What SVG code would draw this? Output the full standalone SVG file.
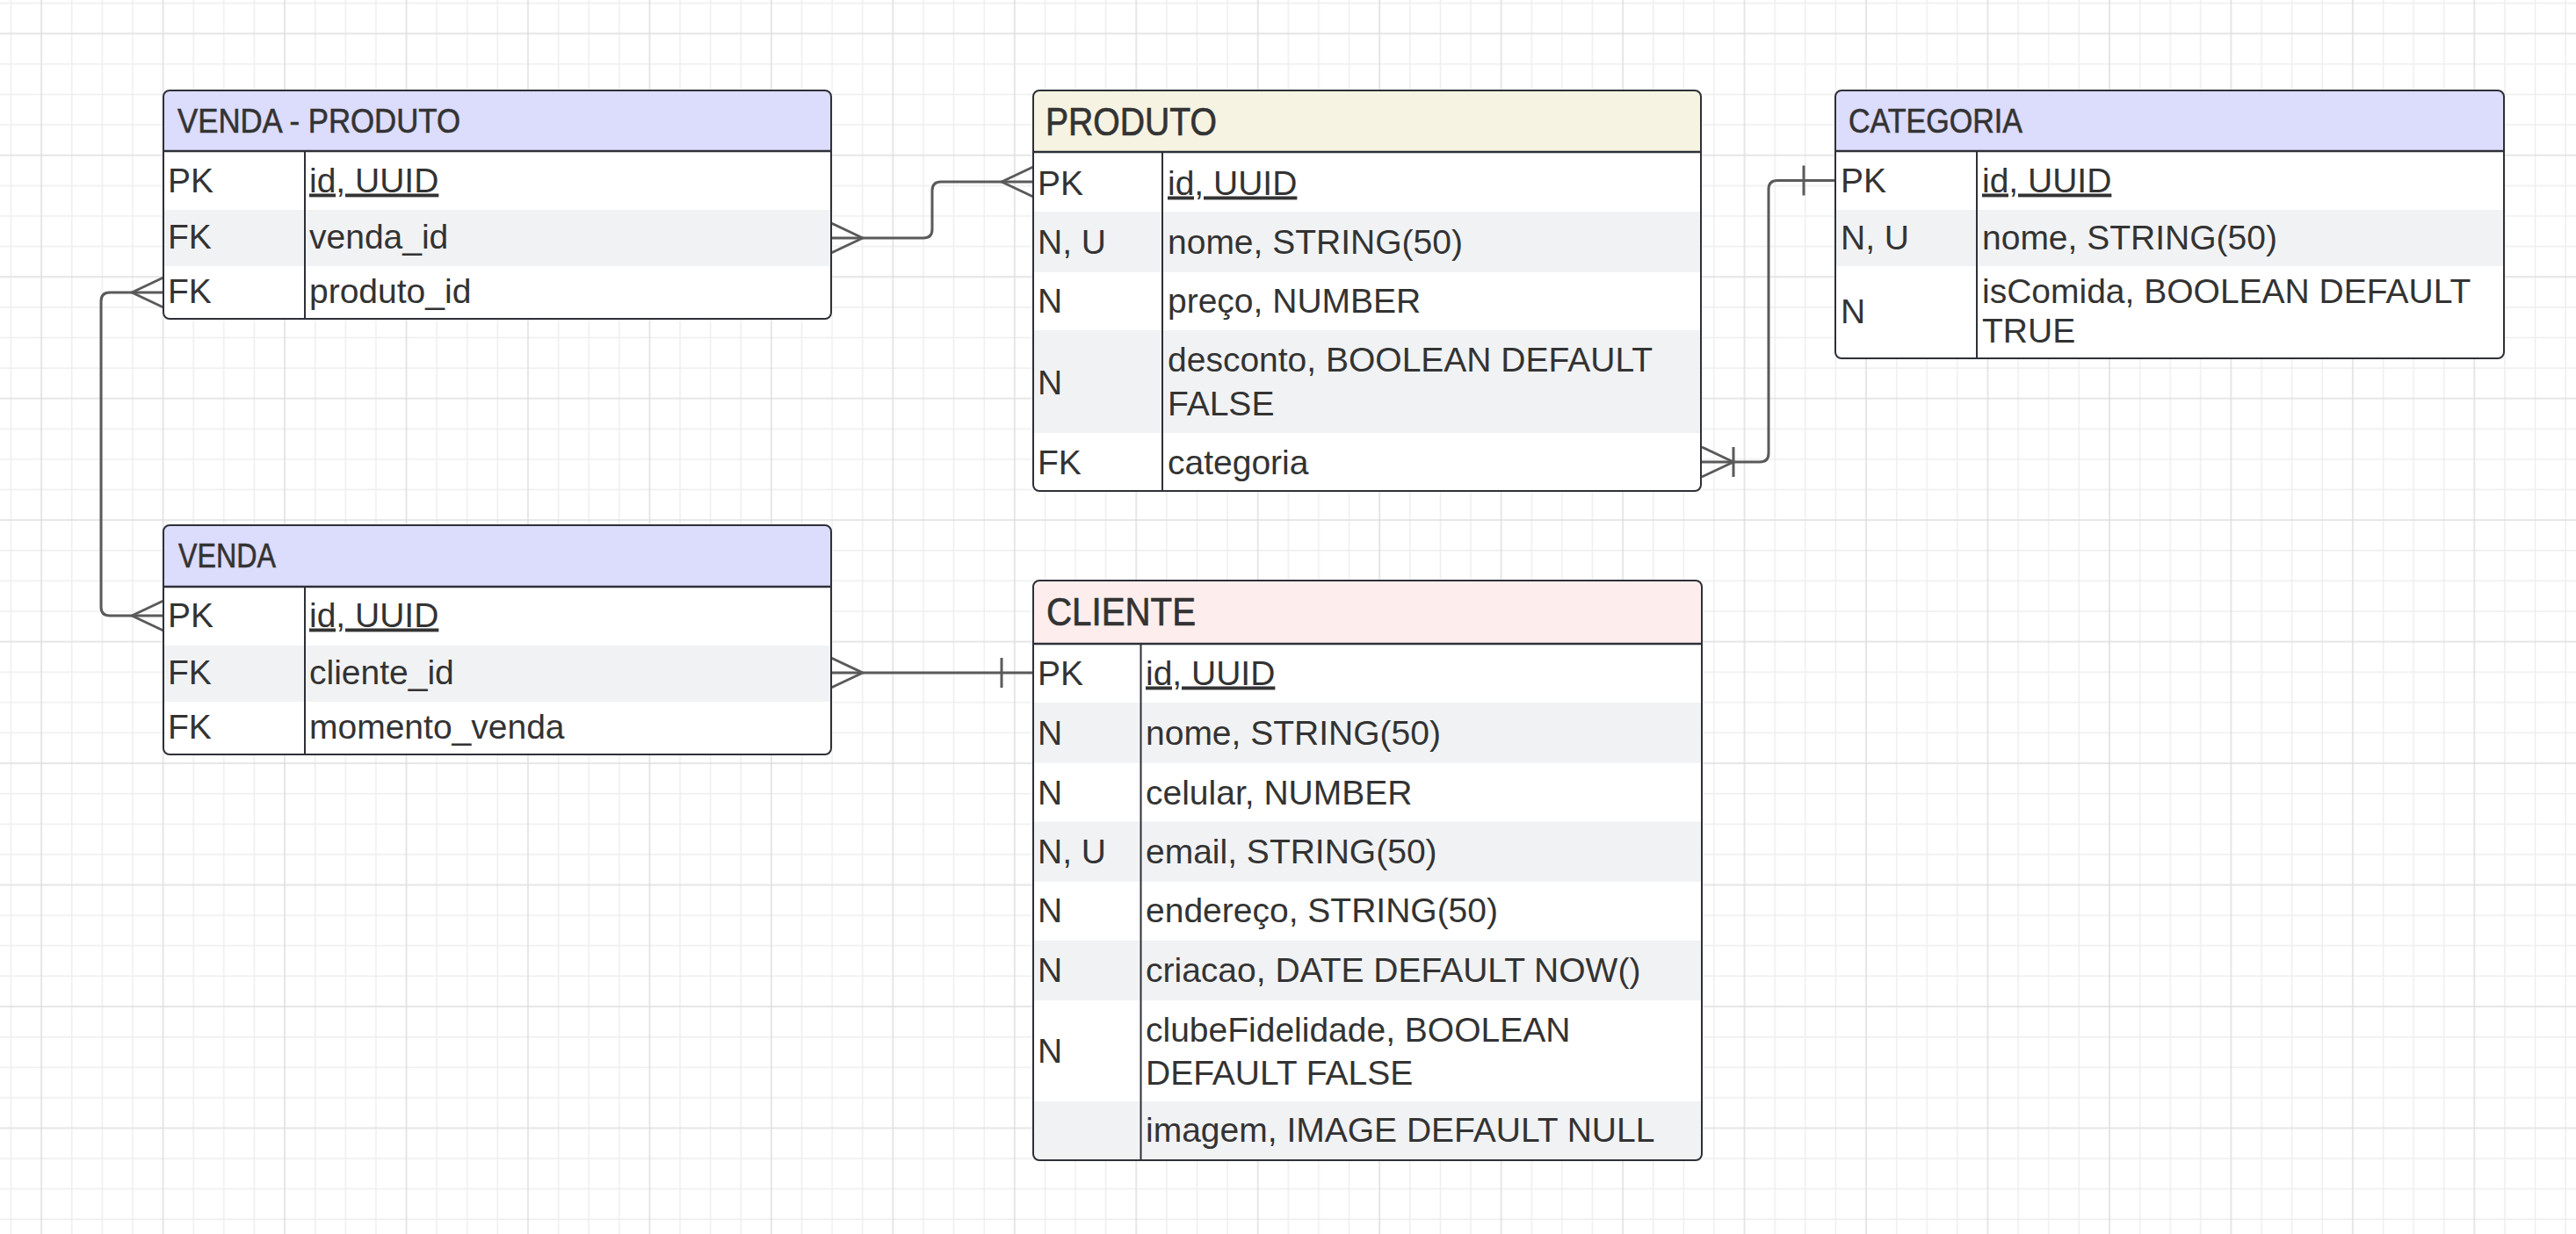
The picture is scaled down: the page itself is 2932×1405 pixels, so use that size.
<svg xmlns="http://www.w3.org/2000/svg" width="2932" height="1405" viewBox="0 0 2932 1405">
<defs>
<pattern id="grid" x="184.6" y="37.3" width="138.46" height="138.46" patternUnits="userSpaceOnUse">
<path d="M35.615,0V138.46M70.23,0V138.46M104.85,0V138.46M0,35.615H138.46M0,70.23H138.46M0,104.85H138.46" stroke="#eeeeee" stroke-width="1.5" fill="none"/>
<path d="M1,0V138.46M0,1H138.46" stroke="#dedede" stroke-width="1.5" fill="none"/>
</pattern>
<clipPath id="c-vp"><rect x="186" y="103" width="760" height="260" rx="7"/></clipPath>
<clipPath id="c-p"><rect x="1176" y="103" width="760" height="456" rx="7"/></clipPath>
<clipPath id="c-c"><rect x="2089" y="103" width="761" height="305" rx="7"/></clipPath>
<clipPath id="c-v"><rect x="186" y="598" width="760" height="261" rx="7"/></clipPath>
<clipPath id="c-cl"><rect x="1176" y="661" width="761" height="660" rx="7"/></clipPath>
</defs>
<style>
.box{fill:none;stroke:#2e3038;stroke-width:2}
.hline{stroke:#2e3038;stroke-width:2.5}
.div{stroke:#2e3038;stroke-width:2}
.bg{fill:#ffffff}
.alt{fill:#f1f2f4}
.hb{fill:#dcdcfc}
.hp{fill:#f6f3e2}
.hc{fill:#fdeeed}
.t{font-family:"Liberation Sans",Arial,sans-serif;font-size:39px;fill:#333333}
.h{font-family:"Liberation Sans",Arial,sans-serif;font-size:38px;fill:#333333;stroke:#333333;stroke-width:0.6}
.hl{font-family:"Liberation Sans",Arial,sans-serif;font-size:44px;fill:#333333;stroke:#333333;stroke-width:0.7}
.u{text-decoration:underline}
.con{fill:none;stroke:#5a5a5a;stroke-width:3;stroke-linejoin:round}
</style>
<rect x="0" y="0" width="2932" height="1405" fill="#ffffff"/>
<rect x="0" y="0" width="2932" height="1405" fill="url(#grid)"/>

<g id="connectors">
<path class="con" d="M946,271H1051Q1061,271 1061,261V217Q1061,207 1071,207H1176"/>
<path class="con" d="M946,254L982,271L946,288"/>
<path class="con" d="M1176,190L1140,207L1176,224"/>
<path class="con" d="M186,333H125Q115,333 115,343V691Q115,701 125,701H186"/>
<path class="con" d="M186,316L150,333L186,350"/>
<path class="con" d="M186,684L150,701L186,718"/>
<path class="con" d="M1937,526H2003Q2013,526 2013,516V215.5Q2013,205.5 2023,205.5H2089"/>
<path class="con" d="M1937,509L1973,526L1937,543M1973,509V543"/>
<path class="con" d="M2053,188.5V222.5"/>
<path class="con" d="M946,766H1176"/>
<path class="con" d="M946,749L982,766L946,783"/>
<path class="con" d="M1140,749V783"/>
</g>

<g id="venda-produto">
<g clip-path="url(#c-vp)">
<rect class="bg" x="186" y="103" width="760" height="260"/>
<rect class="hb" x="186" y="103" width="760" height="69"/>
<rect class="alt" x="186" y="239" width="760" height="64"/>
</g>
<line class="div" x1="347" y1="172" x2="347" y2="363"/>
<line class="hline" x1="186" y1="172" x2="946" y2="172"/>
<rect class="box" x="186" y="103" width="760" height="260" rx="7"/>
<text class="h" x="202" y="151" textLength="322" lengthAdjust="spacingAndGlyphs">VENDA - PRODUTO</text>
<text class="t" x="191" y="218.5">PK</text>
<text class="t u" x="352" y="218.5">id, UUID</text>
<text class="t" x="191" y="283">FK</text>
<text class="t" x="352" y="283">venda_id</text>
<text class="t" x="191" y="345">FK</text>
<text class="t" x="352" y="345">produto_id</text>
</g>

<g id="produto">
<g clip-path="url(#c-p)">
<rect class="bg" x="1176" y="103" width="760" height="456"/>
<rect class="hp" x="1176" y="103" width="760" height="70"/>
<rect class="alt" x="1176" y="241" width="760" height="69"/>
<rect class="alt" x="1176" y="376" width="760" height="117"/>
</g>
<line class="div" x1="1323" y1="173" x2="1323" y2="559"/>
<line class="hline" x1="1176" y1="173" x2="1936" y2="173"/>
<rect class="box" x="1176" y="103" width="760" height="456" rx="7"/>
<text class="hl" x="1190" y="154" textLength="195" lengthAdjust="spacingAndGlyphs">PRODUTO</text>
<text class="t" x="1181" y="221.5">PK</text>
<text class="t u" x="1329" y="221.5">id, UUID</text>
<text class="t" x="1181" y="288.5">N, U</text>
<text class="t" x="1329" y="288.5">nome, STRING(50)</text>
<text class="t" x="1181" y="356">N</text>
<text class="t" x="1329" y="356">preço, NUMBER</text>
<text class="t" x="1181" y="448.5">N</text>
<text class="t" x="1329" y="422.5">desconto, BOOLEAN DEFAULT<tspan x="1329" y="472.5">FALSE</tspan></text>
<text class="t" x="1181" y="539.5">FK</text>
<text class="t" x="1329" y="539.5">categoria</text>
</g>

<g id="categoria">
<g clip-path="url(#c-c)">
<rect class="bg" x="2089" y="103" width="761" height="305"/>
<rect class="hb" x="2089" y="103" width="761" height="69"/>
<rect class="alt" x="2089" y="239" width="761" height="64"/>
</g>
<line class="div" x1="2250" y1="172" x2="2250" y2="408"/>
<line class="hline" x1="2089" y1="172" x2="2850" y2="172"/>
<rect class="box" x="2089" y="103" width="761" height="305" rx="7"/>
<text class="h" x="2104" y="151" textLength="198" lengthAdjust="spacingAndGlyphs">CATEGORIA</text>
<text class="t" x="2095" y="218.5">PK</text>
<text class="t u" x="2256" y="218.5">id, UUID</text>
<text class="t" x="2095" y="283.5">N, U</text>
<text class="t" x="2256" y="283.5">nome, STRING(50)</text>
<text class="t" x="2095" y="367.5">N</text>
<text class="t" x="2256" y="345">isComida, BOOLEAN DEFAULT<tspan x="2256" y="390">TRUE</tspan></text>
</g>

<g id="venda">
<g clip-path="url(#c-v)">
<rect class="bg" x="186" y="598" width="760" height="261"/>
<rect class="hb" x="186" y="598" width="760" height="70"/>
<rect class="alt" x="186" y="735" width="760" height="64"/>
</g>
<line class="div" x1="347" y1="668" x2="347" y2="859"/>
<line class="hline" x1="186" y1="668" x2="946" y2="668"/>
<rect class="box" x="186" y="598" width="760" height="261" rx="7"/>
<text class="h" x="203" y="646" textLength="111" lengthAdjust="spacingAndGlyphs">VENDA</text>
<text class="t" x="191" y="713.5">PK</text>
<text class="t u" x="352" y="713.5">id, UUID</text>
<text class="t" x="191" y="778.5">FK</text>
<text class="t" x="352" y="778.5">cliente_id</text>
<text class="t" x="191" y="840.5">FK</text>
<text class="t" x="352" y="840.5">momento_venda</text>
</g>

<g id="cliente">
<g clip-path="url(#c-cl)">
<rect class="bg" x="1176" y="661" width="761" height="660"/>
<rect class="hc" x="1176" y="661" width="761" height="72"/>
<rect class="alt" x="1176" y="800" width="761" height="68.6"/>
<rect class="alt" x="1176" y="935.5" width="761" height="68.3"/>
<rect class="alt" x="1176" y="1070.8" width="761" height="68.2"/>
<rect class="alt" x="1176" y="1253.8" width="761" height="67.2"/>
</g>
<line class="div" x1="1298.5" y1="733" x2="1298.5" y2="1321"/>
<line class="hline" x1="1176" y1="733" x2="1937" y2="733"/>
<rect class="box" x="1176" y="661" width="761" height="660" rx="7"/>
<text class="hl" x="1191" y="712" textLength="170" lengthAdjust="spacingAndGlyphs">CLIENTE</text>
<text class="t" x="1181" y="779.5">PK</text>
<text class="t u" x="1304" y="779.5">id, UUID</text>
<text class="t" x="1181" y="847.5">N</text>
<text class="t" x="1304" y="847.5">nome, STRING(50)</text>
<text class="t" x="1181" y="915.5">N</text>
<text class="t" x="1304" y="915.5">celular, NUMBER</text>
<text class="t" x="1181" y="983">N, U</text>
<text class="t" x="1304" y="983">email, STRING(50)</text>
<text class="t" x="1181" y="1050">N</text>
<text class="t" x="1304" y="1050">endereço, STRING(50)</text>
<text class="t" x="1181" y="1117.5">N</text>
<text class="t" x="1304" y="1117.5">criacao, DATE DEFAULT NOW()</text>
<text class="t" x="1181" y="1210">N</text>
<text class="t" x="1304" y="1185.5">clubeFidelidade, BOOLEAN<tspan x="1304" y="1234.5">DEFAULT FALSE</tspan></text>
<text class="t" x="1304" y="1300">imagem, IMAGE DEFAULT NULL</text>
</g>
</svg>
